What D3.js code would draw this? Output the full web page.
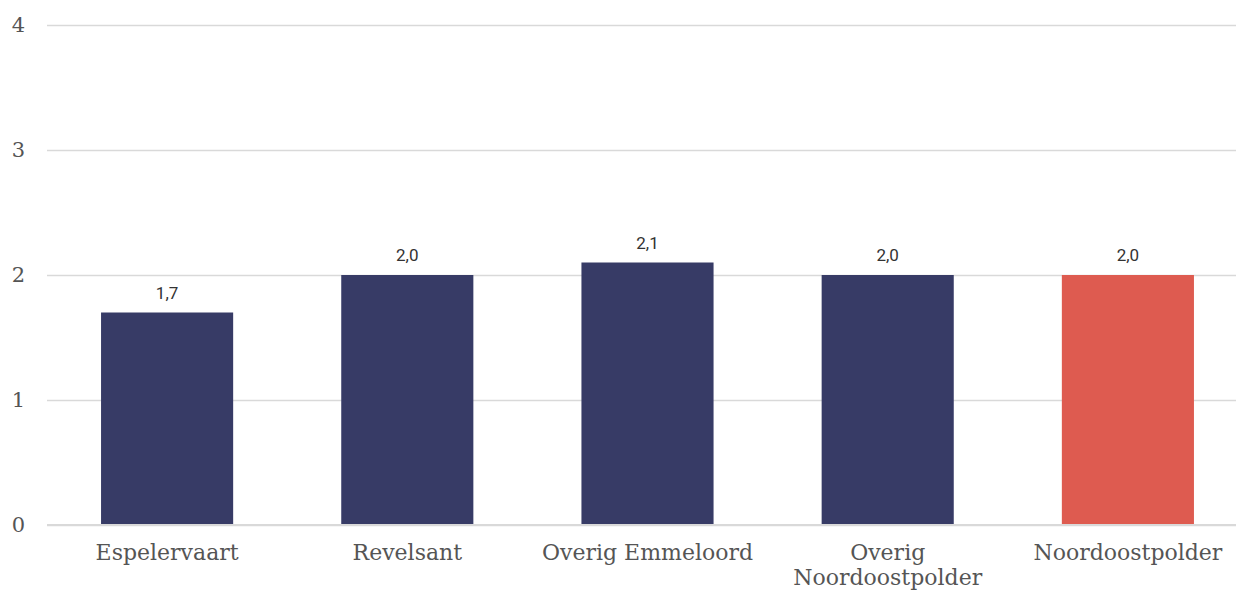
<!DOCTYPE html>
<html><head><meta charset="utf-8">
<script src="https://cdn.jsdelivr.net/npm/d3@7"></script>
<style>body{margin:0;background:#fff}svg{display:block}</style>
</head><body><svg id="c" width="1236" height="590"></svg>
<script>
const categories = ["Espelervaart", "Revelsant", "Overig Emmeloord", "Overig Noordoostpolder", "Noordoostpolder"];
const values = [1.7, 2.0, 2.1, 2.0, 2.0];
const valueLabels = ["1,7", "2,0", "2,1", "2,0", "2,0"];
const yTicks = [0, 1, 2, 3, 4];
const barColors = ["#373b66", "#373b66", "#373b66", "#373b66", "#de5b50"];

const svg = d3.select("#c");
const x = d3.scaleBand().domain(categories).range([47, 1248]).paddingInner(0.45).paddingOuter(0.225);
const y = d3.scaleLinear().domain([0, 4]).range([525, 25]);

const yAxis = d3.axisLeft(y).tickValues(yTicks).tickSize(-1189).tickFormat(d3.format("d"));
const gy = svg.append("g").attr("transform", "translate(47,0)").call(yAxis);
gy.select(".domain").remove();
gy.selectAll(".tick line").attr("stroke", "#d9d9d9").attr("stroke-width", 1.5);
gy.selectAll(".tick text").attr("x", -22).attr("font-family", "'DejaVu Serif', serif")
  .attr("font-size", 21).attr("fill", "#555");

svg.append("g").selectAll("rect").data(categories).join("rect")
  .attr("x", d => x(d)).attr("width", x.bandwidth())
  .attr("y", (d, i) => y(values[i])).attr("height", (d, i) => y(0) - y(values[i]))
  .attr("fill", (d, i) => barColors[i]);

// redraw baseline over bars
svg.append("line").attr("x1", 47).attr("x2", 1236).attr("y1", y(0)).attr("y2", y(0))
  .attr("stroke", "#d9d9d9").attr("stroke-width", 2);

svg.append("g").selectAll("text").data(categories).join("text")
  .attr("x", d => x(d) + x.bandwidth() / 2)
  .attr("y", (d, i) => y(values[i]) - 14)
  .attr("text-anchor", "middle").attr("font-family", "Roboto, sans-serif")
  .attr("font-size", 17).attr("fill", "#333")
  .text((d, i) => valueLabels[i]);

const xAxis = d3.axisBottom(x).tickSize(0);
const gx = svg.append("g").attr("transform", `translate(0,${y(0)})`).call(xAxis);
gx.select(".domain").remove();
gx.selectAll(".tick text").attr("font-family", "'DejaVu Serif', serif").attr("font-size", 22)
  .attr("fill", "#555").attr("dy", null).attr("y", 35)
  .each(function(d) {
    const t = d3.select(this);
    if (d === "Overig Noordoostpolder") {
      t.text(null);
      t.append("tspan").attr("x", 0).attr("y", 35).text("Overig");
      t.append("tspan").attr("x", 0).attr("y", 60).text("Noordoostpolder");
    }
  });
</script></body></html>
